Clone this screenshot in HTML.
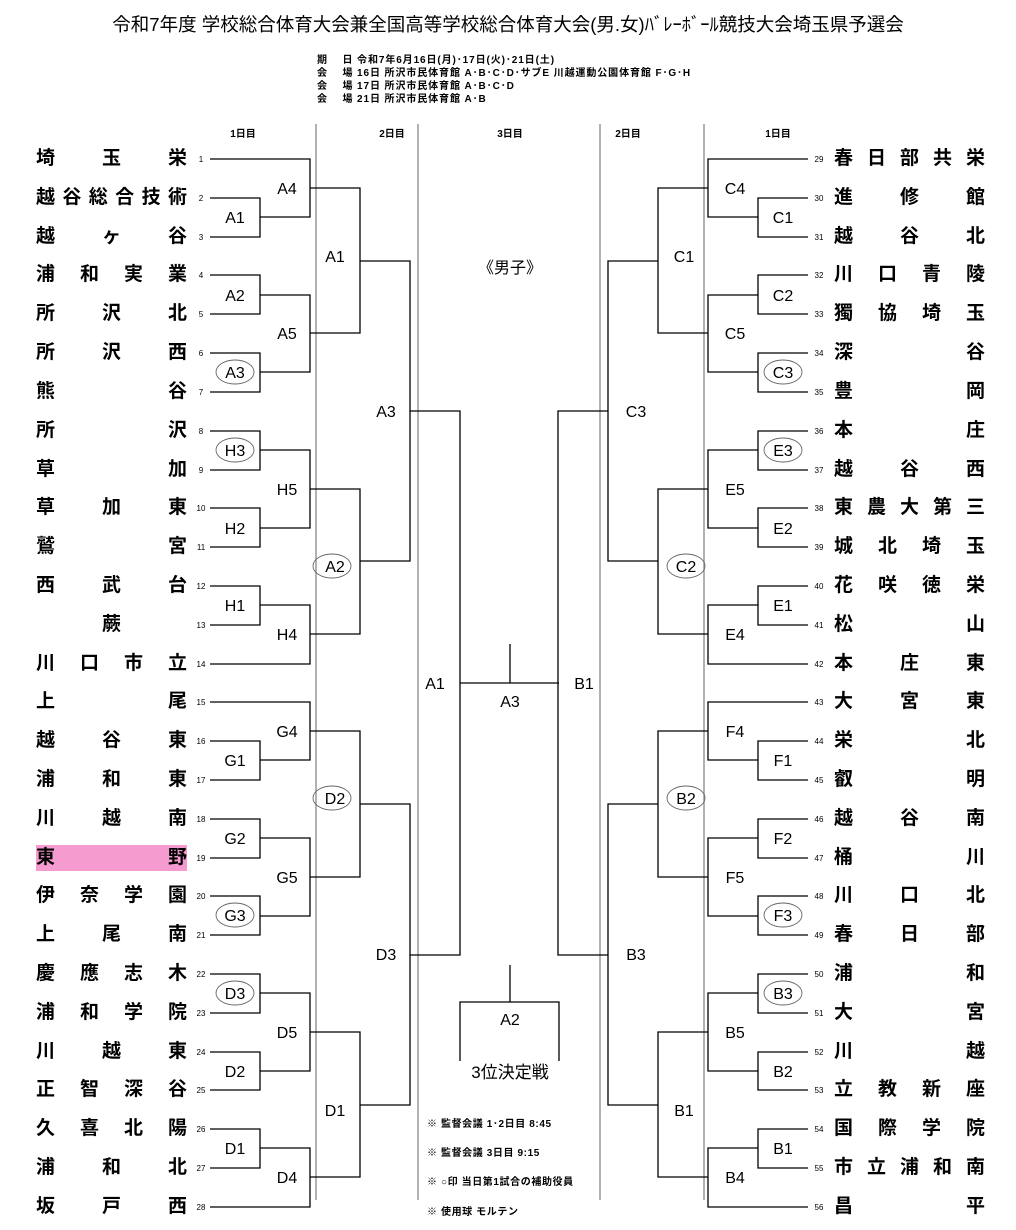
<!DOCTYPE html>
<html><head><meta charset="utf-8">
<style>
body{margin:0;background:#fff;width:1016px;height:1230px;position:relative;overflow:hidden;font-family:"Liberation Sans","Noto Sans CJK JP",sans-serif;}
.n{position:absolute;width:151px;height:26px;display:flex;justify-content:space-between;align-items:center;font-size:19px;font-weight:bold;color:#000;line-height:26px;}
.l{left:36px}.r{left:834px}
.c{justify-content:center}
.hl{background:#f59bcf}
svg{position:absolute;left:0;top:0}
</style></head><body>
<svg width="1016" height="1230" viewBox="0 0 1016 1230" font-family="Liberation Sans, Noto Sans CJK JP, sans-serif">
<text x="508" y="31" font-size="18.5" text-anchor="middle">令和7年度  学校総合体育大会兼全国高等学校総合体育大会(男.女)ﾊﾞﾚｰﾎﾞｰﾙ競技大会埼玉県予選会</text>
<g font-size="10" font-weight="bold" letter-spacing="0.9">
<text x="317" y="63">期　 日  令和7年6月16日(月)･17日(火)･21日(土)</text>
<text x="317" y="76">会　 場  16日  所沢市民体育館  A･B･C･D･サブE  川越運動公園体育館  F･G･H</text>
<text x="317" y="89">会　 場  17日  所沢市民体育館  A･B･C･D</text>
<text x="317" y="102">会　 場  21日  所沢市民体育館  A･B</text>
</g>
<g font-size="10" font-weight="bold" text-anchor="middle">
<text x="243" y="137">1日目</text><text x="392" y="137">2日目</text><text x="510" y="137">3日目</text><text x="628" y="137">2日目</text><text x="778" y="137">1日目</text>
</g>
<g stroke="#999" stroke-width="1.5">
<line x1="316" y1="124" x2="316" y2="1200"/><line x1="418" y1="124" x2="418" y2="1200"/>
<line x1="600" y1="124" x2="600" y2="1200"/><line x1="704" y1="124" x2="704" y2="1200"/>
</g>
<defs>
<g id="br" fill="none" stroke="#000" stroke-width="1.3">
<path d="M210 198H260V237H210M210 275H260V314H210M210 353H260V392H210M210 431H260V470H210M210 508H260V547H210M210 586H260V625H210M210 741H260V780H210M210 819H260V858H210M210 896H260V935H210M210 974H260V1013H210M210 1052H260V1090H210M210 1129H260V1168H210"/>
<path d="M210 159H310V217H260M260 295H310V372H260M260 450H310V528H260M260 605H310V664H210M210 702H310V760H260M260 838H310V916H260M260 993H310V1071H260M260 1148H310V1207H210"/>
<path d="M310 188H360V333H310M310 489H360V634H310M310 731H360V877H310M310 1032H360V1177H310"/>
<path d="M360 261H410V561H360M360 804H410V1105H360"/>
<path d="M410 411H460V955H410"/>
</g>
</defs>
<use href="#br"/>
<use href="#br" transform="matrix(-1,0,0,1,1018,0)"/>
<g fill="none" stroke="#000" stroke-width="1.3">
<path d="M460 683H559M510 683V644"/>
<path d="M510 965V1002M460 1061V1002H559V1061"/>
</g>
<g fill="none" stroke="#666" stroke-width="0.9">
<ellipse cx="235" cy="372" rx="19" ry="12"/><ellipse cx="235" cy="450" rx="19" ry="12"/>
<ellipse cx="332" cy="566" rx="19" ry="12"/><ellipse cx="332" cy="798" rx="19" ry="12"/>
<ellipse cx="235" cy="915" rx="19" ry="12"/><ellipse cx="235" cy="993" rx="19" ry="12"/>
<ellipse cx="783" cy="372" rx="19" ry="12"/><ellipse cx="783" cy="450" rx="19" ry="12"/>
<ellipse cx="686" cy="566" rx="19" ry="12"/><ellipse cx="686" cy="798" rx="19" ry="12"/>
<ellipse cx="783" cy="915" rx="19" ry="12"/><ellipse cx="783" cy="993" rx="19" ry="12"/>
</g>
<g font-size="16" text-anchor="middle">
<text x="235" y="223">A1</text><text x="235" y="301">A2</text><text x="235" y="378">A3</text>
<text x="287" y="194">A4</text><text x="287" y="339">A5</text><text x="335" y="262">A1</text>
<text x="235" y="456">H3</text><text x="235" y="534">H2</text><text x="235" y="611">H1</text>
<text x="287" y="495">H5</text><text x="287" y="640">H4</text><text x="335" y="572">A2</text>
<text x="386" y="417">A3</text>
<text x="235" y="766">G1</text><text x="235" y="844">G2</text><text x="235" y="921">G3</text>
<text x="287" y="737">G4</text><text x="287" y="883">G5</text><text x="335" y="804">D2</text>
<text x="235" y="999">D3</text><text x="235" y="1077">D2</text><text x="235" y="1154">D1</text>
<text x="287" y="1038">D5</text><text x="287" y="1183">D4</text><text x="335" y="1116">D1</text>
<text x="386" y="960">D3</text>
<text x="435" y="689">A1</text><text x="584" y="689">B1</text><text x="510" y="707">A3</text>
<text x="783" y="223">C1</text><text x="783" y="301">C2</text><text x="783" y="378">C3</text>
<text x="735" y="194">C4</text><text x="735" y="339">C5</text><text x="684" y="262">C1</text>
<text x="783" y="456">E3</text><text x="783" y="534">E2</text><text x="783" y="611">E1</text>
<text x="735" y="495">E5</text><text x="735" y="640">E4</text><text x="686" y="572">C2</text>
<text x="636" y="417">C3</text>
<text x="783" y="766">F1</text><text x="783" y="844">F2</text><text x="783" y="921">F3</text>
<text x="735" y="737">F4</text><text x="735" y="883">F5</text><text x="686" y="804">B2</text>
<text x="783" y="999">B3</text><text x="783" y="1077">B2</text><text x="783" y="1154">B1</text>
<text x="735" y="1038">B5</text><text x="735" y="1183">B4</text><text x="684" y="1116">B1</text>
<text x="636" y="960">B3</text>
<text x="510" y="1025">A2</text>
<text x="510" y="1078" font-size="17">3位決定戦</text>
<text x="510" y="273">《男子》</text>
</g>
<g font-size="10" font-weight="bold" letter-spacing="0.6">
<text x="427" y="1127">※  監督会議  1･2日目  8:45</text>
<text x="427" y="1156">※  監督会議  3日目  9:15</text>
<text x="427" y="1185">※  ○印  当日第1試合の補助役員</text>
<text x="427" y="1215">※  使用球  モルテン</text>
</g>
<g font-size="8" text-anchor="middle">
<text x="201" y="162">1</text><text x="201" y="201">2</text><text x="201" y="240">3</text><text x="201" y="278">4</text><text x="201" y="317">5</text><text x="201" y="356">6</text><text x="201" y="395">7</text><text x="201" y="434">8</text><text x="201" y="473">9</text><text x="201" y="511">10</text><text x="201" y="550">11</text><text x="201" y="589">12</text><text x="201" y="628">13</text><text x="201" y="667">14</text><text x="201" y="705">15</text><text x="201" y="744">16</text><text x="201" y="783">17</text><text x="201" y="822">18</text><text x="201" y="861">19</text><text x="201" y="899">20</text><text x="201" y="938">21</text><text x="201" y="977">22</text><text x="201" y="1016">23</text><text x="201" y="1055">24</text><text x="201" y="1093">25</text><text x="201" y="1132">26</text><text x="201" y="1171">27</text><text x="201" y="1210">28</text>
<text x="819" y="162">29</text><text x="819" y="201">30</text><text x="819" y="240">31</text><text x="819" y="278">32</text><text x="819" y="317">33</text><text x="819" y="356">34</text><text x="819" y="395">35</text><text x="819" y="434">36</text><text x="819" y="473">37</text><text x="819" y="511">38</text><text x="819" y="550">39</text><text x="819" y="589">40</text><text x="819" y="628">41</text><text x="819" y="667">42</text><text x="819" y="705">43</text><text x="819" y="744">44</text><text x="819" y="783">45</text><text x="819" y="822">46</text><text x="819" y="861">47</text><text x="819" y="899">48</text><text x="819" y="938">49</text><text x="819" y="977">50</text><text x="819" y="1016">51</text><text x="819" y="1055">52</text><text x="819" y="1093">53</text><text x="819" y="1132">54</text><text x="819" y="1171">55</text><text x="819" y="1210">56</text>
</g>
</svg>

<div class="n l" style="top:146px"><span>埼</span><span>玉</span><span>栄</span></div>
<div class="n l" style="top:185px"><span>越</span><span>谷</span><span>総</span><span>合</span><span>技</span><span>術</span></div>
<div class="n l" style="top:224px"><span>越</span><span>ヶ</span><span>谷</span></div>
<div class="n l" style="top:262px"><span>浦</span><span>和</span><span>実</span><span>業</span></div>
<div class="n l" style="top:301px"><span>所</span><span>沢</span><span>北</span></div>
<div class="n l" style="top:340px"><span>所</span><span>沢</span><span>西</span></div>
<div class="n l" style="top:379px"><span>熊</span><span>谷</span></div>
<div class="n l" style="top:418px"><span>所</span><span>沢</span></div>
<div class="n l" style="top:457px"><span>草</span><span>加</span></div>
<div class="n l" style="top:495px"><span>草</span><span>加</span><span>東</span></div>
<div class="n l" style="top:534px"><span>鷲</span><span>宮</span></div>
<div class="n l" style="top:573px"><span>西</span><span>武</span><span>台</span></div>
<div class="n l c" style="top:612px"><span>蕨</span></div>
<div class="n l" style="top:651px"><span>川</span><span>口</span><span>市</span><span>立</span></div>
<div class="n l" style="top:689px"><span>上</span><span>尾</span></div>
<div class="n l" style="top:728px"><span>越</span><span>谷</span><span>東</span></div>
<div class="n l" style="top:767px"><span>浦</span><span>和</span><span>東</span></div>
<div class="n l" style="top:806px"><span>川</span><span>越</span><span>南</span></div>
<div class="n l hl" style="top:845px"><span>東</span><span>野</span></div>
<div class="n l" style="top:883px"><span>伊</span><span>奈</span><span>学</span><span>園</span></div>
<div class="n l" style="top:922px"><span>上</span><span>尾</span><span>南</span></div>
<div class="n l" style="top:961px"><span>慶</span><span>應</span><span>志</span><span>木</span></div>
<div class="n l" style="top:1000px"><span>浦</span><span>和</span><span>学</span><span>院</span></div>
<div class="n l" style="top:1039px"><span>川</span><span>越</span><span>東</span></div>
<div class="n l" style="top:1077px"><span>正</span><span>智</span><span>深</span><span>谷</span></div>
<div class="n l" style="top:1116px"><span>久</span><span>喜</span><span>北</span><span>陽</span></div>
<div class="n l" style="top:1155px"><span>浦</span><span>和</span><span>北</span></div>
<div class="n l" style="top:1194px"><span>坂</span><span>戸</span><span>西</span></div>

<div class="n r" style="top:146px"><span>春</span><span>日</span><span>部</span><span>共</span><span>栄</span></div>
<div class="n r" style="top:185px"><span>進</span><span>修</span><span>館</span></div>
<div class="n r" style="top:224px"><span>越</span><span>谷</span><span>北</span></div>
<div class="n r" style="top:262px"><span>川</span><span>口</span><span>青</span><span>陵</span></div>
<div class="n r" style="top:301px"><span>獨</span><span>協</span><span>埼</span><span>玉</span></div>
<div class="n r" style="top:340px"><span>深</span><span>谷</span></div>
<div class="n r" style="top:379px"><span>豊</span><span>岡</span></div>
<div class="n r" style="top:418px"><span>本</span><span>庄</span></div>
<div class="n r" style="top:457px"><span>越</span><span>谷</span><span>西</span></div>
<div class="n r" style="top:495px"><span>東</span><span>農</span><span>大</span><span>第</span><span>三</span></div>
<div class="n r" style="top:534px"><span>城</span><span>北</span><span>埼</span><span>玉</span></div>
<div class="n r" style="top:573px"><span>花</span><span>咲</span><span>徳</span><span>栄</span></div>
<div class="n r" style="top:612px"><span>松</span><span>山</span></div>
<div class="n r" style="top:651px"><span>本</span><span>庄</span><span>東</span></div>
<div class="n r" style="top:689px"><span>大</span><span>宮</span><span>東</span></div>
<div class="n r" style="top:728px"><span>栄</span><span>北</span></div>
<div class="n r" style="top:767px"><span>叡</span><span>明</span></div>
<div class="n r" style="top:806px"><span>越</span><span>谷</span><span>南</span></div>
<div class="n r" style="top:845px"><span>桶</span><span>川</span></div>
<div class="n r" style="top:883px"><span>川</span><span>口</span><span>北</span></div>
<div class="n r" style="top:922px"><span>春</span><span>日</span><span>部</span></div>
<div class="n r" style="top:961px"><span>浦</span><span>和</span></div>
<div class="n r" style="top:1000px"><span>大</span><span>宮</span></div>
<div class="n r" style="top:1039px"><span>川</span><span>越</span></div>
<div class="n r" style="top:1077px"><span>立</span><span>教</span><span>新</span><span>座</span></div>
<div class="n r" style="top:1116px"><span>国</span><span>際</span><span>学</span><span>院</span></div>
<div class="n r" style="top:1155px"><span>市</span><span>立</span><span>浦</span><span>和</span><span>南</span></div>
<div class="n r" style="top:1194px"><span>昌</span><span>平</span></div>
</body></html>
